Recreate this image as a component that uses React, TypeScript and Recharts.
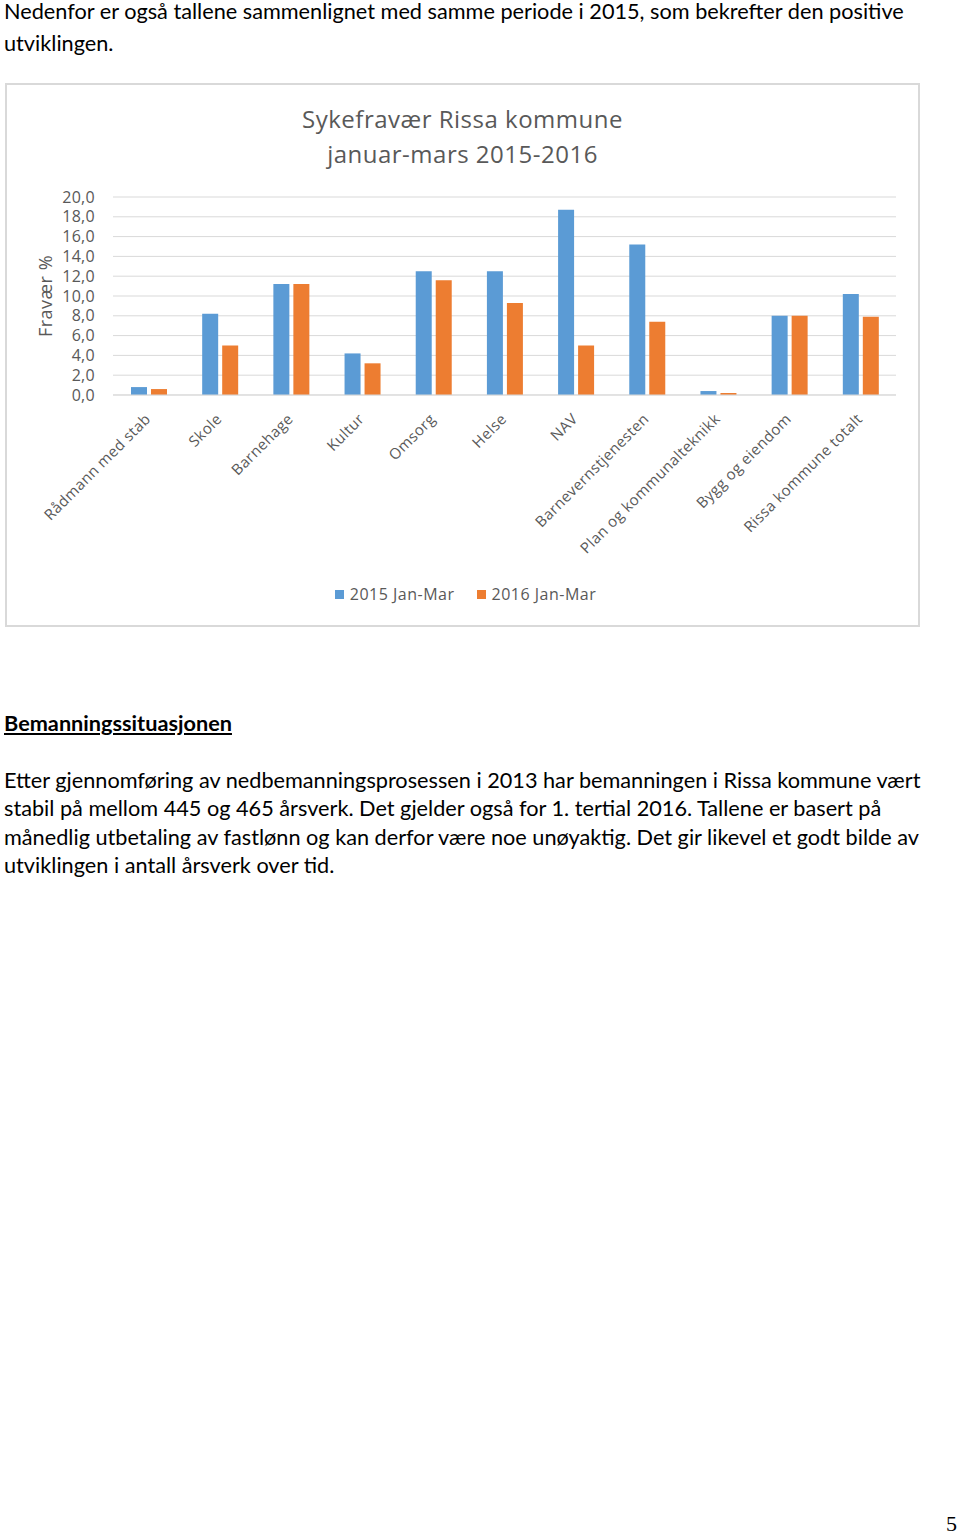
import React from 'react';
import { BarChart, Bar, XAxis, YAxis, CartesianGrid, Legend } from 'recharts';

const categories = [
  'Rådmann med stab',
  'Skole',
  'Barnehage',
  'Kultur',
  'Omsorg',
  'Helse',
  'NAV',
  'Barnevernstjenesten',
  'Plan og kommunalteknikk',
  'Bygg og eiendom',
  'Rissa kommune totalt',
];
const values2015 = [0.8, 8.2, 11.2, 4.2, 12.5, 12.5, 18.7, 15.2, 0.4, 8.0, 10.2];
const values2016 = [0.6, 5.0, 11.2, 3.2, 11.6, 9.3, 5.0, 7.4, 0.2, 8.0, 7.9];
const seriesNames = ['2015 Jan-Mar', '2016 Jan-Mar'];
const yTicks = [0, 2, 4, 6, 8, 10, 12, 14, 16, 18, 20];

const BLUE = '#5B9BD5';
const ORANGE = '#ED7D31';
const GREY_TEXT = '#595959';
const GRID = '#d9d9d9';

const data = categories.map((name, i) => ({ name, y2015: values2015[i], y2016: values2016[i] }));

const fmtTick = (v: number) => v.toFixed(1).replace('.', ',');

const XTick = ({ x, y, payload }: any) => (
  <g transform={`translate(${x + 3},${y + 25})`}>
    <text
      textAnchor="end"
      transform="rotate(-45)"
      fill={GREY_TEXT}
      fontSize={15}
      fontFamily="'Open Sans', sans-serif"
      letterSpacing={0.4}
    >
      {payload.value}
    </text>
  </g>
);

const YLabel = (props: any) => {
  const vb = props.viewBox || { y: 112, height: 198 };
  const cx = 45;
  const cy = vb.y + vb.height / 2;
  return (
    <text
      x={cx}
      y={cy}
      transform={`rotate(-90 ${cx} ${cy})`}
      textAnchor="middle"
      fill={GREY_TEXT}
      fontSize={18}
      fontFamily="'Open Sans', sans-serif"
      letterSpacing={0.5}
    >
      Fravær %
    </text>
  );
};

const renderLegend = () => (
  <div
    style={{
      display: 'flex',
      justifyContent: 'center',
      gap: 22,
      paddingLeft: 6,
      fontFamily: "'Open Sans', sans-serif",
      fontSize: 16,
      lineHeight: '20px',
      color: GREY_TEXT,
      letterSpacing: 0.5,
    }}
  >
    {seriesNames.map((n, i) => (
      <span key={n} style={{ display: 'flex', alignItems: 'center' }}>
        <span
          style={{ display: 'inline-block', width: 9, height: 9, background: i === 0 ? BLUE : ORANGE, marginRight: 6 }}
        />
        {n}
      </span>
    ))}
  </div>
);

const bodyFont = "Lato, 'Noto Sans', sans-serif";

function Line({ top, children, style }: { top: number; children: React.ReactNode; style?: React.CSSProperties }) {
  return (
    <div
      style={{
        position: 'absolute',
        left: 4,
        top,
        whiteSpace: 'nowrap',
        fontFamily: bodyFont,
        fontSize: 21.7,
        lineHeight: '28px',
        color: '#000',
        ...style,
      }}
    >
      {children}
    </div>
  );
}

export default function App() {
  return (
    <div style={{ position: 'absolute', left: 0, top: 0, width: 960, height: 1535, background: '#fff' }}>
      <Line top={0} style={{ lineHeight: '22px' }}>
        Nedenfor er også tallene sammenlignet med samme periode i 2015, som bekrefter den positive
      </Line>
      <Line top={28.5}>utviklingen.</Line>

      <div
        style={{
          position: 'absolute',
          left: 5,
          top: 83,
          width: 915,
          height: 544,
          boxSizing: 'border-box',
          border: `2px solid ${GRID}`,
          background: '#fff',
        }}
      >
        <div
          style={{
            position: 'absolute',
            left: 0,
            top: 16,
            width: 911,
            textAlign: 'center',
            fontFamily: "'Open Sans', sans-serif",
            fontSize: 24,
            lineHeight: '35px',
            letterSpacing: 0.5,
            color: GREY_TEXT,
          }}
        >
          <div>Sykefravær Rissa kommune</div>
          <div>januar-mars 2015-2016</div>
        </div>
        <div style={{ position: 'absolute', left: 0, top: 0 }}>
          <BarChart width={911} height={540} data={data} margin={{ top: 112, right: 22, bottom: 0, left: 0 }} barSize={16} barGap={4}>
            <CartesianGrid vertical={false} stroke={GRID} />
            <XAxis
              dataKey="name"
              height={230}
              interval={0}
              tickLine={false}
              tickSize={0}
              tickMargin={0}
              axisLine={{ stroke: GRID }}
              tick={<XTick />}
            />
            <YAxis
              width={106}
              domain={[0, 20]}
              ticks={yTicks}
              interval={0}
              tickFormatter={fmtTick}
              axisLine={false}
              tickLine={false}
              tickSize={0}
              tickMargin={18}
              tick={{ fill: GREY_TEXT, fontSize: 16, fontFamily: "'Open Sans', sans-serif", letterSpacing: 0.3 }}
              label={{ content: YLabel }}
            />
            <Legend
              layout="horizontal"
              align="center"
              verticalAlign="middle"
              content={renderLegend}
              wrapperStyle={{ position: 'absolute', top: 499, left: 0, width: 911 }}
            />
            <Bar dataKey="y2015" name={seriesNames[0]} fill={BLUE} isAnimationActive={false} />
            <Bar dataKey="y2016" name={seriesNames[1]} fill={ORANGE} isAnimationActive={false} />
          </BarChart>
        </div>
      </div>

      <Line top={708.5} style={{ fontWeight: 700, textDecoration: 'underline' }}>
        Bemanningssituasjonen
      </Line>

      <Line top={765.5}>Etter gjennomføring av nedbemanningsprosessen i 2013 har bemanningen i Rissa kommune vært</Line>
      <Line top={794}>stabil på mellom 445 og 465 årsverk. Det gjelder også for 1. tertial 2016. Tallene er basert på</Line>
      <Line top={822.5}>månedlig utbetaling av fastlønn og kan derfor være noe unøyaktig. Det gir likevel et godt bilde av</Line>
      <Line top={851}>utviklingen i antall årsverk over tid.</Line>

      <div
        style={{
          position: 'absolute',
          left: 946,
          top: 1514,
          fontFamily: "'Liberation Serif', 'DejaVu Serif', serif",
          fontSize: 22,
          lineHeight: '20px',
          color: '#000',
        }}
      >
        5
      </div>
    </div>
  );
}
